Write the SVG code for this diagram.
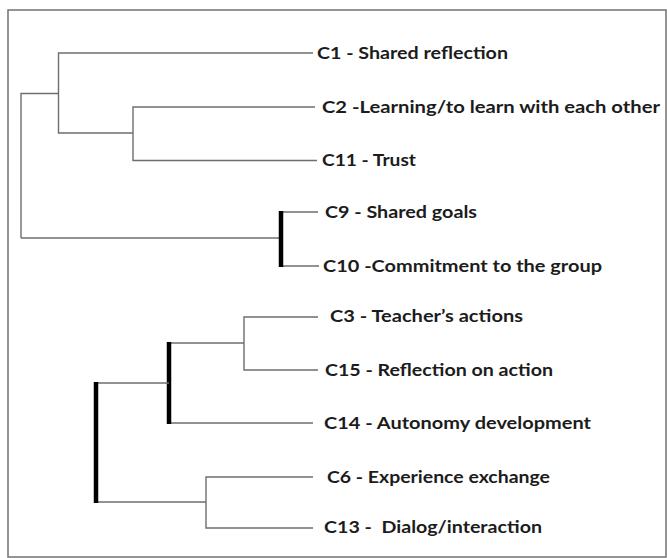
<svg xmlns="http://www.w3.org/2000/svg" width="667" height="558" viewBox="0 0 667 558">
<style>
.frame{fill:#fff;stroke:#7a7a7a;stroke-width:1.6}
.thin{fill:none;stroke:#6e6e6e;stroke-width:1.4}
.thick{fill:none;stroke:#000;stroke-width:4.5}
.lbl{font-family:Lato,"Open Sans","Liberation Sans",sans-serif;font-weight:700;font-size:17.5px;fill:#1c1c1c}
</style>
<rect class="frame" x="8" y="10" width="658" height="547"/>
<g id="connectors">
<polyline class="thin" points="21,238 21,93.5 58.5,93.5"/>
<polyline class="thin" points="313,53 58.5,53 58.5,133 133,133"/>
<polyline class="thin" points="315,107 133,107 133,160.5 317,160.5"/>
<polyline class="thin" points="21,238 281,238"/>
<polyline class="thin" points="281,212 318,212"/>
<polyline class="thin" points="281,266 319,266"/>
<line class="thick" x1="281" y1="211" x2="281" y2="267"/>
<polyline class="thin" points="318,317 244,317 244,370 318,370"/>
<polyline class="thin" points="169,343 244,343"/>
<polyline class="thin" points="169,423 313,423"/>
<line class="thick" x1="169" y1="342" x2="169" y2="424"/>
<polyline class="thin" points="96,383 169,383"/>
<polyline class="thin" points="96,502 206,502"/>
<polyline class="thin" points="313,477 206,477 206,528 313,528"/>
<line class="thick" x1="96" y1="382" x2="96" y2="503"/>
</g>
<g id="C1"><text class="lbl" x="317" y="59" textLength="191" lengthAdjust="spacingAndGlyphs">C1 - Shared reflection</text></g>
<g id="C2"><text class="lbl" x="322" y="113" textLength="338" lengthAdjust="spacingAndGlyphs">C2 -Learning/to learn with each other</text></g>
<g id="C11"><text class="lbl" x="322" y="166" textLength="94" lengthAdjust="spacingAndGlyphs">C11 - Trust</text></g>
<g id="C9"><text class="lbl" x="325" y="217.5" textLength="152" lengthAdjust="spacingAndGlyphs">C9 - Shared goals</text></g>
<g id="C10"><text class="lbl" x="323" y="271.5" textLength="279" lengthAdjust="spacingAndGlyphs">C10 -Commitment to the group</text></g>
<g id="C3"><text class="lbl" x="330" y="322" textLength="193" lengthAdjust="spacingAndGlyphs">C3 - Teacher’s actions</text></g>
<g id="C15"><text class="lbl" x="325" y="375.5" textLength="228" lengthAdjust="spacingAndGlyphs">C15 - Reflection on action</text></g>
<g id="C14"><text class="lbl" x="324" y="428.5" textLength="267" lengthAdjust="spacingAndGlyphs">C14 - Autonomy development</text></g>
<g id="C6"><text class="lbl" x="327" y="482.5" textLength="223" lengthAdjust="spacingAndGlyphs">C6 - Experience exchange</text></g>
<g id="C13"><text class="lbl" x="324" y="533" textLength="218" lengthAdjust="spacingAndGlyphs" xml:space="preserve">C13 -  Dialog/interaction</text></g>
</svg>
